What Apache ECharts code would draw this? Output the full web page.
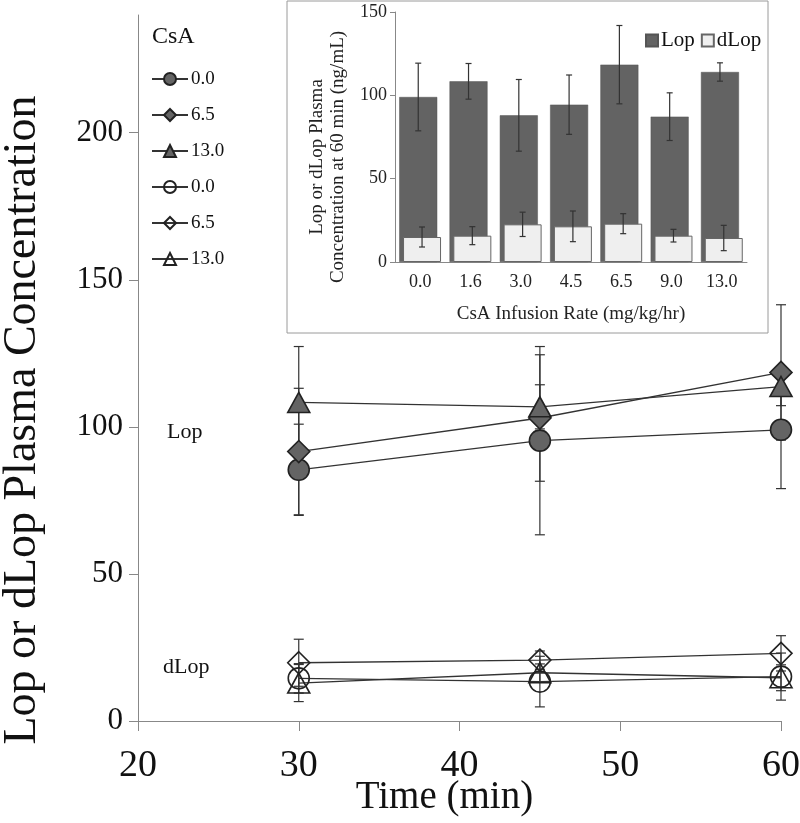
<!DOCTYPE html>
<html>
<head>
<meta charset="utf-8">
<script src="https://cdn.jsdelivr.net/npm/echarts@6/dist/echarts.min.js"></script>
<style>
  html, body { margin: 0; padding: 0; background: #fff; }
  #chartmain { width: 800px; height: 823px; }
</style>
</head>
<body>
<div id="chartmain"></div>
<script>
// main plot: time course
var times = [30, 45, 60];
var lop00 = [85.4, 95.3, 99.0];
var lop00Err = [15.5, 32, 20];
var lop65 = [91.6, 103.0, 118.5];
var lop65Err = [21.5, 21.5, 23];
var lop130 = [108.3, 106.8, 113.7];
var lop130Err = [19, 7.5, 6.5];
var dlop00 = [14.5, 13.4, 15.1];
var dlop00Err = [5, 8.6, 8];
var dlop65 = [19.8, 20.7, 23.0];
var dlop65Err = [8, 3.1, 6];
var dlop130 = [12.9, 16.4, 14.7];
var dlop130Err = [6.3, 3, 4.4];
var yTicks = [0, 50, 100, 150, 200];

// inset: 60 min bars
var rates = ['0.0', '1.6', '3.0', '4.5', '6.5', '9.0', '13.0'];
var lopBar = [99, 108.4, 88, 94.4, 118.4, 87.2, 114];
var lopBarErr = [20.3, 10.7, 21.5, 17.8, 23.5, 14.3, 5.5];
var dlopBar = [15, 15.8, 22.6, 21.4, 23, 15.8, 14.4];
var dlopBarErr = [6, 5.4, 7.3, 9.2, 6, 3.8, 7.6];

var FONT = 'Liberation Serif';
var INK = '#222';

function errData(xs, ys, errs) {
    var out = [];
    for (var i = 0; i < ys.length; i++) {
        out.push([xs[i], ys[i] - errs[i], ys[i] + errs[i]]);
    }
    return out;
}

// vertical error bar with caps, drawn through the axes
function errSeries(data, xi, yi, dx, cap, color) {
    return {
        type: 'custom',
        xAxisIndex: xi,
        yAxisIndex: yi,
        silent: true,
        z: 5,
        data: data,
        encode: { x: 0, y: [1, 2] },
        renderItem: function (params, api) {
            var lo = api.coord([api.value(0), api.value(1)]);
            var hi = api.coord([api.value(0), api.value(2)]);
            var x = lo[0] + dx;
            var st = { stroke: color, lineWidth: 1.2 };
            return {
                type: 'group',
                children: [
                    { type: 'line', shape: { x1: x, y1: lo[1], x2: x, y2: hi[1] }, style: st },
                    { type: 'line', shape: { x1: x - cap, y1: lo[1], x2: x + cap, y2: lo[1] }, style: st },
                    { type: 'line', shape: { x1: x - cap, y1: hi[1], x2: x + cap, y2: hi[1] }, style: st }
                ]
            };
        }
    };
}

function lineSeries(name, ys, symbol, size, filled) {
    return {
        name: name,
        type: 'line',
        xAxisIndex: 0,
        yAxisIndex: 0,
        data: times.map(function (t, i) { return [t, ys[i]]; }),
        symbol: symbol,
        symbolSize: size,
        showAllSymbol: true,
        z: 6,
        lineStyle: { color: '#333', width: 1.3 },
        itemStyle: {
            color: filled ? '#646464' : 'rgba(255,255,255,0)',
            borderColor: INK,
            borderWidth: 1.6,
            opacity: 1
        },
        emphasis: { disabled: true }
    };
}

var myChart = echarts.init(document.getElementById('chartmain'), null, { renderer: 'canvas' });

var option = {
    animation: false,
    backgroundColor: '#fff',
    textStyle: { fontFamily: FONT },
    graphic: [
        {
            type: 'rect', z: 0,
            shape: { x: 287, y: 1, width: 481, height: 332 },
            style: { fill: '#fff', stroke: '#9a9a9a', lineWidth: 1 }
        },
        {
            type: 'text', left: 152, top: 25, z: 10,
            style: { text: 'CsA', font: '24px "Liberation Serif"', fill: '#111' }
        },
        {
            type: 'text', left: 167, top: 421, z: 10,
            style: { text: 'Lop', font: '22px "Liberation Serif"', fill: '#111' }
        },
        {
            type: 'text', left: 163, top: 656, z: 10,
            style: { text: 'dLop', font: '22px "Liberation Serif"', fill: '#111' }
        }
    ],
    legend: [
        {
            orient: 'vertical',
            left: 146,
            top: 64,
            itemWidth: 36,
            itemHeight: 15,
            itemGap: 16,
            textStyle: { fontFamily: FONT, fontSize: 19, color: '#111', lineHeight: 20, padding: [0, 0, 0, -2] },
            data: ['0.0 ', '6.5 ', '13.0 ', '0.0', '6.5', '13.0']
        },
        {
            left: 640,
            top: 25,
            itemWidth: 12,
            itemHeight: 12,
            itemGap: 6,
            icon: 'rect',
            textStyle: { fontFamily: FONT, fontSize: 21, color: '#111', padding: [0, 0, 0, -2] },
            data: ['Lop', 'dLop']
        }
    ],
    grid: [
        { left: 138, right: 19, top: 15, bottom: 102, outerBoundsMode: 'none', containLabel: false },
        { left: 395, right: 53, top: 12, bottom: 561, z: 3, outerBoundsMode: 'none', containLabel: false }
    ],
    xAxis: [
        {
            type: 'value', gridIndex: 0,
            min: 20, max: 60, interval: 10,
            name: 'Time (min)', nameLocation: 'middle', nameGap: 57, nameMoveOverlap: false,
            nameTextStyle: { fontFamily: FONT, fontSize: 39, color: '#111', padding: [0, 30, 0, 0] },
            axisLine: { lineStyle: { color: '#888', width: 1 } },
            axisTick: { inside: false, length: 10, lineStyle: { color: '#888' } },
            axisLabel: { fontFamily: FONT, fontSize: 38, color: '#111', margin: 26 },
            splitLine: { show: false }
        },
        {
            type: 'category', gridIndex: 1,
            data: rates,
            name: 'CsA Infusion Rate (mg/kg/hr)', nameLocation: 'middle', nameGap: 43, nameMoveOverlap: false,
            nameTextStyle: { fontFamily: FONT, fontSize: 19, color: '#222' },
            axisLine: { lineStyle: { color: '#888' } },
            axisTick: { length: 5, lineStyle: { color: '#888' } },
            axisLabel: { fontFamily: FONT, fontSize: 18, color: '#222', margin: 11 },
            splitLine: { show: false }
        }
    ],
    yAxis: [
        {
            type: 'value', gridIndex: 0,
            min: 0, max: 240, interval: 50,
            name: 'Lop or dLop Plasma Concentration', nameLocation: 'middle', nameGap: 92, nameMoveOverlap: false,
            nameTextStyle: { fontFamily: FONT, fontSize: 46, color: '#111', padding: [0, 104, 0, 0] },
            axisLine: { show: true, lineStyle: { color: '#888', width: 1 } },
            axisTick: { show: true, length: 9, lineStyle: { color: '#888' }, customValues: yTicks },
            axisLabel: { fontFamily: FONT, fontSize: 31, color: '#111', margin: 15, customValues: yTicks },
            splitLine: { show: false }
        },
        {
            type: 'value', gridIndex: 1,
            min: 0, max: 150, interval: 50,
            name: 'Lop or dLop Plasma\nConcentration at 60 min (ng/mL)', nameLocation: 'middle', nameGap: 46, nameMoveOverlap: false,
            nameTextStyle: { fontFamily: FONT, fontSize: 19, color: '#222', lineHeight: 21, padding: [0, 40, 0, 0] },
            axisLine: { show: true, lineStyle: { color: '#888' } },
            axisTick: { show: true, length: 5, lineStyle: { color: '#888' } },
            axisLabel: { fontFamily: FONT, fontSize: 18, color: '#222', margin: 8 },
            splitLine: { show: false }
        }
    ],
    series: [
        errSeries(errData(times, lop00, lop00Err), 0, 0, 0, 5, '#333'),
        errSeries(errData(times, lop65, lop65Err), 0, 0, 0, 5, '#333'),
        errSeries(errData(times, lop130, lop130Err), 0, 0, 0, 5, '#333'),
        errSeries(errData(times, dlop00, dlop00Err), 0, 0, 0, 5, '#333'),
        errSeries(errData(times, dlop65, dlop65Err), 0, 0, 0, 5, '#333'),
        errSeries(errData(times, dlop130, dlop130Err), 0, 0, 0, 5, '#333'),
        lineSeries('0.0 ', lop00, 'circle', 21, true),
        lineSeries('6.5 ', lop65, 'diamond', 22, true),
        lineSeries('13.0 ', lop130, 'triangle', [22, 20], true),
        lineSeries('0.0', dlop00, 'circle', 21, false),
        lineSeries('6.5', dlop65, 'diamond', 22, false),
        lineSeries('13.0', dlop130, 'triangle', [22, 20], false),
        {
            name: 'Lop', type: 'bar', xAxisIndex: 1, yAxisIndex: 1,
            data: lopBar, barWidth: 38, barGap: '-90%', z: 3,
            itemStyle: { color: '#636363', borderColor: '#555', borderWidth: 0.5 }
        },
        {
            name: 'dLop', type: 'bar', xAxisIndex: 1, yAxisIndex: 1,
            data: dlopBar, barWidth: 38, z: 3,
            itemStyle: { color: '#efefef', borderColor: '#666', borderWidth: 1 }
        },
        errSeries(errData(rates.map(function (r, i) { return i; }), lopBar, lopBarErr), 1, 1, -1.9, 3, '#333'),
        errSeries(errData(rates.map(function (r, i) { return i; }), dlopBar, dlopBarErr), 1, 1, 1.9, 3, '#333')
    ]
};

myChart.setOption(option);
</script>
</body>
</html>
